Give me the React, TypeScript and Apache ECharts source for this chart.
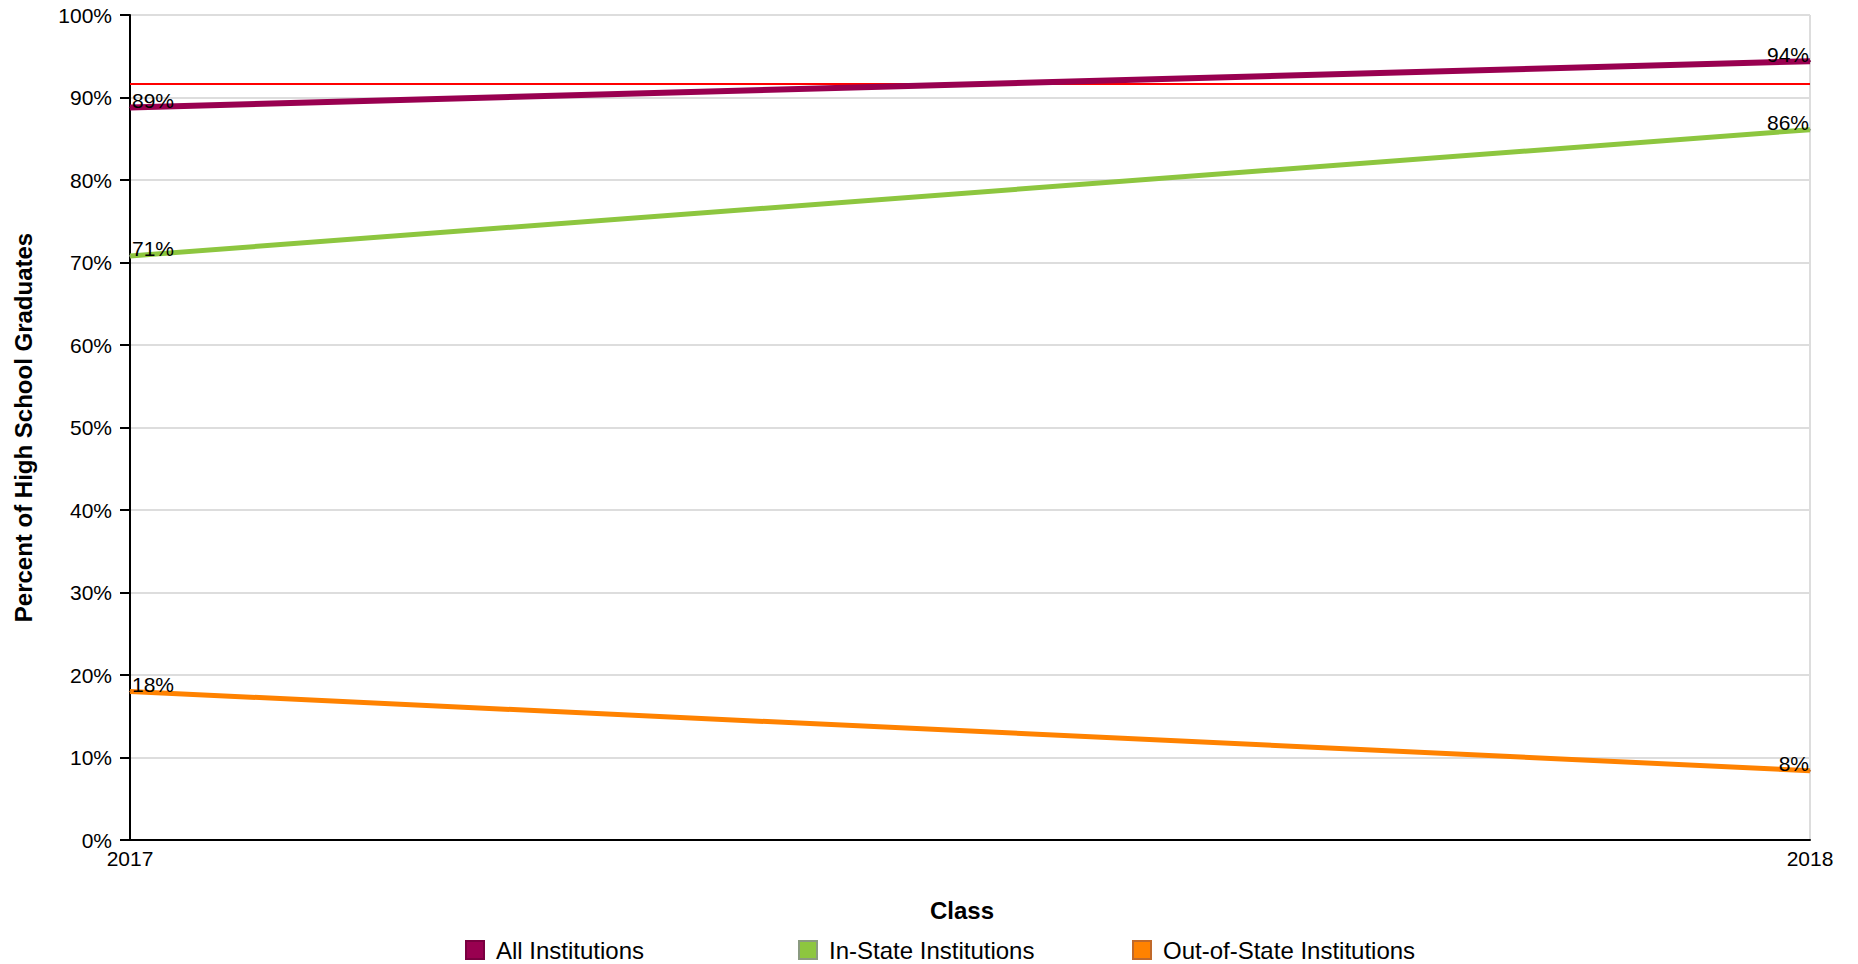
import React, { useEffect, useRef } from "react";
import * as echarts from "echarts";

const CLASSES = ["2017", "2018"];
const ALL_INSTITUTIONS = [88.8, 94.4];
const IN_STATE = [70.8, 86.1];
const OUT_OF_STATE = [18.0, 8.4];
const REFERENCE_LINE = 91.7;
const SERIES_NAMES = ["All Institutions", "In-State Institutions", "Out-of-State Institutions"];
const COLORS = ["#990050", "#8dc63f", "#ff8200"];
const BORDERS = ["#7a0040", "#8a9a80", "#c0692a"];

const FONT = "Liberation Sans, Arial, Helvetica, sans-serif";

function makeData(values: number[]) {
  return values.map((v, i) => ({
    value: v,
    label: {
      show: true,
      position: i === 0 ? "right" : "left",
      distance: i === 0 ? 1 : 0,
      offset: [0, -7],
      formatter: (p: any) => Math.round(p.value) + "%",
      color: "#000",
      fontSize: 21,
      fontFamily: FONT,
    },
  }));
}

export default function App() {
  const ref = useRef<HTMLDivElement>(null);
  useEffect(() => {
    if (!ref.current) return;
    const chart = echarts.init(ref.current, null, { renderer: "svg" });
    const valuesList = [ALL_INSTITUTIONS, IN_STATE, OUT_OF_STATE];
    const legendLefts = [465, 798, 1132];
    chart.setOption({
      animation: false,
      backgroundColor: "#fff",
      textStyle: { fontFamily: FONT },
      grid: { left: 130, right: 48, top: 15, bottom: 124, containLabel: false },
      legend: SERIES_NAMES.map((n, i) => ({
        data: [n],
        left: legendLefts[i],
        top: 938,
        padding: 0,
        itemWidth: 18,
        itemHeight: 18,
        itemGap: 12,
        icon: "rect",
        textStyle: { fontSize: 24, color: "#000", fontFamily: FONT, padding: [0, 0, 0, 7] },
        selectedMode: false,
      })),
      xAxis: {
        type: "category",
        data: CLASSES,
        boundaryGap: false,
        name: "Class",
        nameLocation: "middle",
        nameGap: 58,
        nameTextStyle: {
          fontSize: 24,
          fontWeight: "bold",
          color: "#000",
          fontFamily: FONT,
          padding: [0, 16, 0, 0],
        },
        axisLine: { show: true, lineStyle: { color: "#000", width: 2 } },
        axisTick: { show: false },
        axisLabel: { fontSize: 21, color: "#000", margin: 8, fontFamily: FONT },
        splitLine: { show: true, lineStyle: { color: "#dddddd", width: 2 } },
      },
      yAxis: {
        type: "value",
        min: 0,
        max: 100,
        interval: 10,
        name: "Percent of High School Graduates",
        nameLocation: "middle",
        nameGap: 95,
        nameTextStyle: { fontSize: 24, fontWeight: "bold", color: "#000", fontFamily: FONT },
        axisLine: { show: true, lineStyle: { color: "#000", width: 2 } },
        axisTick: { show: true, length: 10, lineStyle: { color: "#000", width: 2 } },
        axisLabel: { formatter: "{value}%", fontSize: 21, color: "#000", margin: 18, fontFamily: FONT },
        splitLine: { show: true, lineStyle: { color: "#dddddd", width: 2 } },
      },
      series: SERIES_NAMES.map((n, i) => ({
        name: n,
        type: "line",
        data: makeData(valuesList[i]),
        symbol: "circle",
        symbolSize: 1,
        showSymbol: true,
        color: COLORS[i],
        itemStyle: { color: COLORS[i], borderColor: BORDERS[i], borderWidth: 1 },
        lineStyle: { color: COLORS[i], width: i === 0 ? 6 : 5 },
        z: 3 - i + 2,
        markLine:
          i === 0
            ? {
                silent: true,
                symbol: "none",
                label: { show: false },
                lineStyle: { color: "#ff0000", width: 2, type: "solid" },
                data: [{ yAxis: REFERENCE_LINE }],
                z: 1,
              }
            : undefined,
      })),
    });
    return () => chart.dispose();
  }, []);
  return (
    <div
      ref={ref}
      style={{ position: "fixed", left: 0, top: 0, width: 1858, height: 964 }}
    />
  );
}
